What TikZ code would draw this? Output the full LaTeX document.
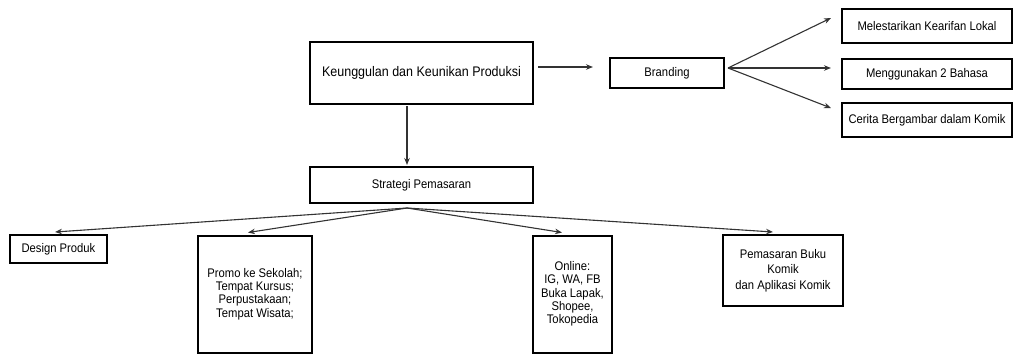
\documentclass[tikz,border=0pt]{standalone}
\usepackage{fontspec}
\setmainfont{Liberation Sans}[FakeStretch=0.9]
\usetikzlibrary{arrows.meta,calc}
\begin{document}
\begin{tikzpicture}[x=1pt,y=-1pt,
  box/.style={draw=black,line width=2pt,fill=white,inner sep=2pt,align=center,
    font=\fontsize{12.5}{13.3}\selectfont},
  bigbox/.style={box,font=\fontsize{13.9}{15}\selectfont},
  arr/.style={draw=black!80,line width=1.1pt,-{Stealth[length=7pt,width=5.5pt]}}]
\useasboundingbox (0,0) rectangle (1014,354);
% nodes
\node[bigbox,minimum width=223pt,minimum height=62pt] (main) at (421.5,73) {Keunggulan dan Keunikan Produksi};
\node[box,minimum width=114pt,minimum height=30pt] (brand) at (667,73) {Branding};
\node[box,minimum width=170pt,minimum height=34pt] (m1) at (927,26) {Melestarikan Kearifan Lokal};
\node[box,minimum width=170pt,minimum height=30pt] (m2) at (927,74) {Menggunakan 2 Bahasa};
\node[box,minimum width=170pt,minimum height=34pt] (m3) at (927,120) {Cerita Bergambar dalam Komik};
\node[box,minimum width=223pt,minimum height=36pt] (strat) at (421.5,185) {Strategi Pemasaran};
\node[box,minimum width=97pt,minimum height=28pt] (design) at (58.5,249) {Design Produk};
\node[box,minimum width=114pt,minimum height=117pt] (promo) at (255,294) {Promo ke Sekolah;\\Tempat Kursus;\\Perpustakaan;\\Tempat Wisata;};
\node[box,minimum width=79pt,minimum height=117pt] (online) at (572.5,294) {Online:\\IG, WA, FB\\Buka Lapak,\\Shopee,\\Tokopedia};
\node[box,minimum width=120pt,minimum height=71pt,font=\fontsize{12.5}{15.5}\selectfont] (pemas) at (783,270.5) {Pemasaran Buku\\Komik\\dan Aplikasi Komik};
% connectors
\draw[arr] ($(main.east)+(4,-6)$) -- ($(brand.west)+(-16,-6)$);
\draw[arr] ($(main.south)+(-14.5,1)$) -- ($(strat.north)+(-14.5,-1)$);
\draw[arr] ($(brand.east)+(3,-5)$) -- ($(m1.west)+(-10,-8)$);
\draw[arr] ($(brand.east)+(3,-5)$) -- ($(m2.west)+(-10,-6)$);
\draw[arr] ($(brand.east)+(3,-5)$) -- ($(m3.west)+(-10,-12)$);
\draw[arr] ($(strat.south)+(-14.5,4)$) -- ($(design.north)+(-3.5,-2)$);
\draw[arr] ($(strat.south)+(-14.5,4)$) -- ($(promo.north)+(-7,-2)$);
\draw[arr] ($(strat.south)+(-14.5,4)$) -- ($(online.north)+(-10.5,-2)$);
\draw[arr] ($(strat.south)+(-14.5,4)$) -- ($(pemas.north)+(-10,-2)$);
\end{tikzpicture}
\end{document}
